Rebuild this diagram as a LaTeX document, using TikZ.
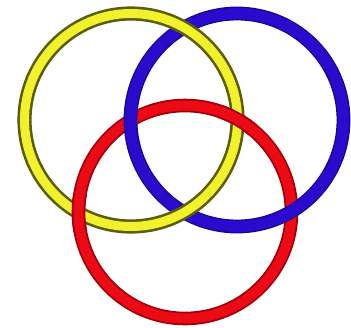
\documentclass[tikz,border=0pt]{standalone}
\definecolor{yfill}{HTML}{F2F22C}
\definecolor{yedge}{HTML}{5C5C0C}
\definecolor{bfill}{HTML}{2A0ACC}
\definecolor{bedge}{HTML}{1C0690}
\definecolor{rfill}{HTML}{EC0A14}
\definecolor{redge}{HTML}{A0000C}
\tikzset{
  yellowring/.style={draw=yedge, line width=2.6pt, double=yfill, double distance=9pt},
  bluering/.style={draw=bedge, line width=1.4pt, double=bfill, double distance=11pt},
  redring/.style={draw=redge, line width=1.8pt, double=rfill, double distance=10pt},
}
\begin{document}
\begin{tikzpicture}[x=1pt,y=-1pt]
\useasboundingbox[fill=white] (0,0) rectangle (351,327);
\coordinate (Y) at (131,120);
\coordinate (B) at (237,120);
\coordinate (R) at (185,212);
\coordinate (RY1) at (78,213);
\coordinate (RY2) at (238,119);
\draw[redring] (R) circle[radius=106.5];
\draw[bluering] (B) circle[radius=106.5];
\draw[yellowring] (Y) circle[radius=106.5];
\begin{scope}
  \clip (RY1) circle[radius=20];
  \draw[redring] (R) circle[radius=106.5];
\end{scope}
\begin{scope}
  \clip (RY2) circle[radius=20];
  \draw[redring] (R) circle[radius=106.5];
\end{scope}
\end{tikzpicture}
\end{document}
